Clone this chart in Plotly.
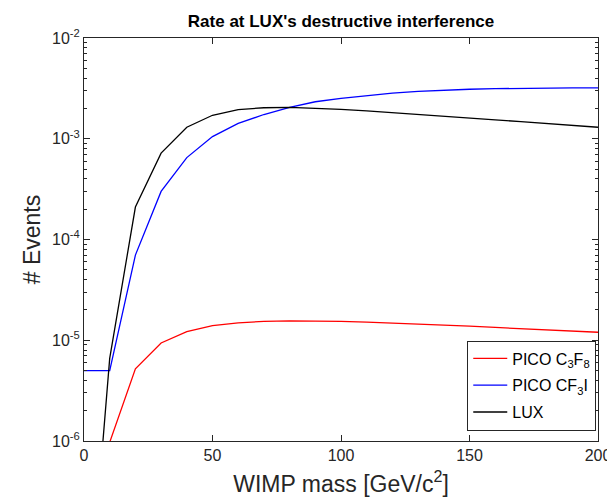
import plotly.graph_objects as go

# WIMP mass grid [GeV/c^2]
mass = [0, 10, 20, 30, 40, 50, 60, 70, 80, 90, 100, 110, 120, 130, 140, 150, 160, 170, 180, 190, 200]

pico_c3f8 = [1.0e-8, 9.7e-7, 5.2e-6, 9.4e-6, 1.22e-5, 1.40e-5, 1.49e-5, 1.54e-5, 1.56e-5, 1.56e-5,
             1.54e-5, 1.51e-5, 1.48e-5, 1.44e-5, 1.41e-5, 1.38e-5, 1.34e-5, 1.30e-5, 1.27e-5, 1.23e-5, 1.20e-5]

pico_cf3i = [5.0e-6, 5.0e-6, 7.0e-5, 3.0e-4, 6.5e-4, 1.05e-3, 1.42e-3, 1.74e-3, 2.05e-3, 2.33e-3,
             2.52e-3, 2.69e-3, 2.84e-3, 2.95e-3, 3.04e-3, 3.10e-3, 3.14e-3, 3.17e-3, 3.19e-3, 3.20e-3, 3.20e-3]

lux = [5.0e-9, 6.6e-6, 2.1e-4, 7.2e-4, 1.30e-3, 1.71e-3, 1.95e-3, 2.03e-3, 2.05e-3, 2.02e-3,
       1.96e-3, 1.89e-3, 1.82e-3, 1.75e-3, 1.68e-3, 1.61e-3, 1.54e-3, 1.48e-3, 1.42e-3, 1.36e-3, 1.30e-3]

series_names = ["PICO C<sub>3</sub>F<sub>8</sub>", "PICO CF<sub>3</sub>I", "LUX"]
series_colors = ["#ff0000", "#0000ff", "#000000"]

x_ticks = [0, 50, 100, 150, 200]
y_decades = [-6, -5, -4, -3, -2]
y_tickvals = [10.0 ** e for e in y_decades]
y_ticktext = ["10<sup>%d</sup>" % e for e in y_decades]
y_minor = [m * 10.0 ** e for e in y_decades[:-1] for m in range(2, 10)]

AX = "#262626"
FONT = "Liberation Sans, Arial, sans-serif"

fig = go.Figure()
for i, (name, ys, col) in enumerate(zip(series_names, [pico_c3f8, pico_cf3i, lux], series_colors)):
    fig.add_trace(go.Scatter(x=mass, y=ys, mode="lines", name=name, legendgroup="g%d" % i,
                             line=dict(color=col, width=1.3)))

fig.update_layout(
    width=615, height=499,
    margin=dict(l=76, r=17, t=30, b=66),
    paper_bgcolor="white", plot_bgcolor="white",
    font=dict(family=FONT, color=AX, size=16),
    title=dict(text="<b>Rate at LUX's destructive interference</b>",
               x=0.5, xref="paper", xanchor="center",
               y=1 - 13 / 499, yref="container", yanchor="middle",
               font=dict(family=FONT, size=17, color="#000000")),
    showlegend=True,
    legend=dict(x=0.9966, y=0.026, xanchor="right", yanchor="bottom",
                bgcolor="white", bordercolor=AX, borderwidth=1,
                font=dict(family=FONT, size=16, color="#000000"),
                tracegroupgap=3, itemwidth=34),
)

fig.update_xaxes(
    range=[0, 200], tickvals=x_ticks, ticks="inside", ticklen=6, tickcolor=AX,
    showline=True, linecolor=AX, linewidth=1, mirror="ticks",
    showgrid=False, zeroline=False,
    tickfont=dict(family=FONT, size=16, color=AX),
    title=dict(text="WIMP mass [GeV/c<sup>2</sup>]", font=dict(family=FONT, size=23, color=AX), standoff=12),
)
fig.update_yaxes(
    type="log", range=[-6, -2], tickmode="array", tickvals=y_tickvals, ticktext=y_ticktext,
    ticks="inside", ticklen=6, tickcolor=AX,
    minor=dict(tickmode="array", tickvals=y_minor, ticks="inside", ticklen=3, tickcolor=AX, showgrid=False),
    showline=True, linecolor=AX, linewidth=1, mirror="ticks",
    showgrid=False, zeroline=False,
    tickfont=dict(family=FONT, size=16, color=AX),
    title=dict(text="# Events", font=dict(family=FONT, size=23, color=AX), standoff=4),
)

fig.write_html("out.html")
